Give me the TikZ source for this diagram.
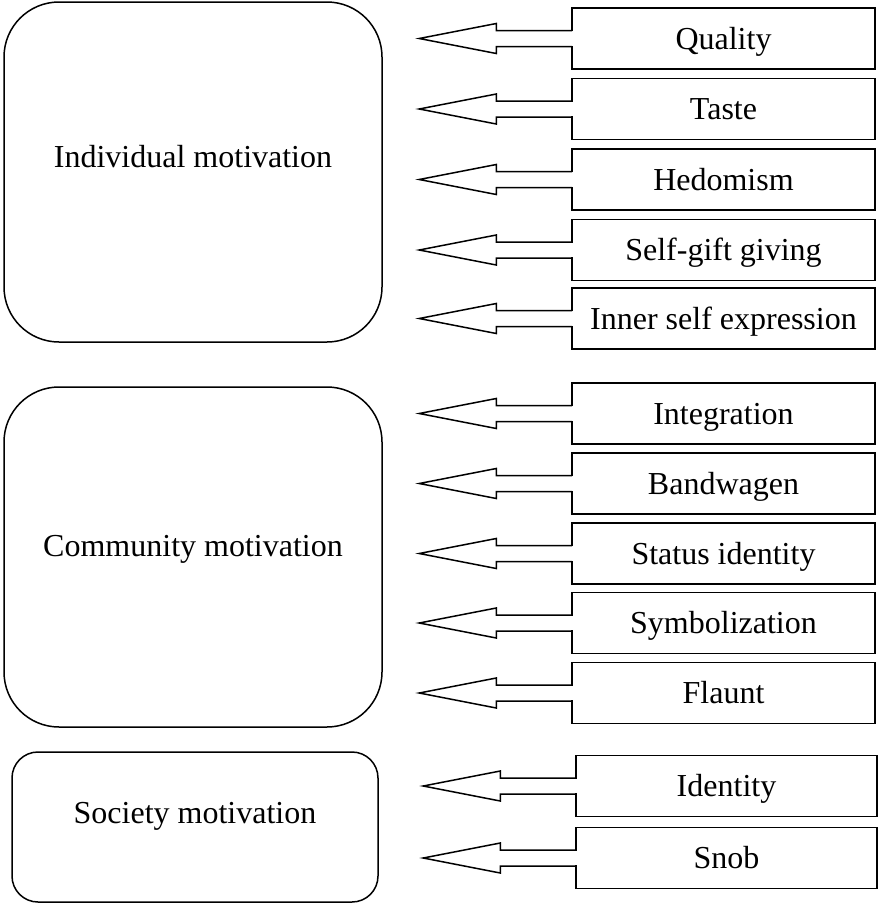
\documentclass[tikz,border=0pt]{standalone}
\usepackage{fontspec}
\setmainfont{Liberation Serif}
\usetikzlibrary{calc}
\begin{document}
\begin{tikzpicture}[x=1pt,y=-1pt,
  bigbox/.style={draw, line width=1.5pt, rounded corners=55pt, inner sep=0pt},
  itembox/.style={draw, line width=1.5pt, minimum width=303pt, minimum height=61pt, inner sep=0pt,
    text height=21pt, text depth=0pt, font=\fontsize{32}{38}\selectfont},
  lbl/.style={anchor=base, font=\fontsize{32}{38}\selectfont},
  arrowline/.style={line width=1.5pt, line join=miter, miter limit=20}]
\useasboundingbox (0,0) rectangle (878,903);
\fill[white] (0,0) rectangle (878,903);

% motivation boxes
\node[bigbox, minimum width=378pt, minimum height=340pt] (ind) at (193,172) {};
\node[bigbox, minimum width=378pt, minimum height=340pt] (com) at (193,557) {};
\node[bigbox, rounded corners=26pt, minimum width=366pt, minimum height=150pt] (soc) at (195,827) {};
\node[lbl] (indl) at (193,167) {Individual motivation};
\node[lbl] (coml) at (193,556) {Community motivation};
\node[lbl] (socl) at (195,823) {Society motivation};

% item boxes
\foreach \n/\t/\y in {q/Quality/38.5, ta/Taste/109, he/Hedomism/179.5, sg/Self-gift giving/250,
    ise/Inner self expression/318.5, in/Integration/413.5, ba/Bandwagen/483.5,
    st/Status identity/553.5, sy/Symbolization/623, fl/Flaunt/693}
  \node[itembox] (\n) at (723.5,\y) {\t};
\foreach \n/\t/\y in {id/Identity/786, sn/Snob/858}
  \node[itembox, minimum width=301pt] (\n) at (726.5,\y) {\t};

% block arrows
\foreach \n in {q,ta,he,sg,ise,in,ba,st,sy,fl,id,sn} {
  \fill[white] ($(\n.west)+(-1,-7.2)$) rectangle ($(\n.west)+(2.8,7.2)$);
  \draw[arrowline] ($(\n.west)+(0.75,-8)$) -- ($(\n.west)+(-75,-8)$) -- ($(\n.west)+(-75,-15)$)
    -- ($(\n.west)+(-152,0)$) -- ($(\n.west)+(-75,15)$) -- ($(\n.west)+(-75,8)$)
    -- ($(\n.west)+(0.75,8)$);
}
\end{tikzpicture}
\end{document}
